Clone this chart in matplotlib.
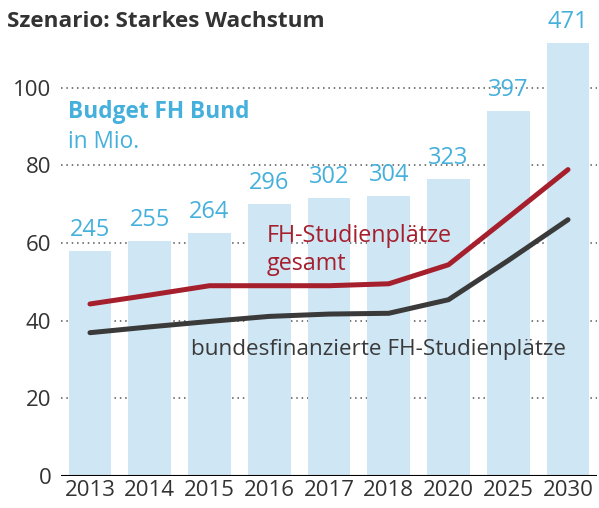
import matplotlib.pyplot as plt
import numpy as np

plt.rcParams['font.family'] = ['Open Sans', 'DejaVu Sans']

# --- data ---
years = ['2013', '2014', '2015', '2016', '2017', '2018', '2020', '2025', '2030']
budget = [245, 255, 264, 296, 302, 304, 323, 397, 471]        # Mio.
plaetze_gesamt = [44.3, 46.6, 49.0, 49.0, 49.0, 49.5, 54.4, 66.6, 78.9]
plaetze_bund = [36.9, 38.4, 39.8, 41.1, 41.7, 41.9, 45.4, 55.5, 66.0]
budget_scale = 4.22   # budget bars drawn on the same axis, Mio. per unit

BAR_C = '#cfe6f4'
BLUE = '#45b0dc'
RED = '#a51f2d'
DARK = '#3a3a3a'
TXT = '#333333'

fig = plt.figure(figsize=(5.99, 5.08), dpi=100)
ax = fig.add_axes([61 / 599, 32 / 508, 536 / 599, 466 / 508])

x = np.arange(len(years))
bar_h = np.array(budget) / budget_scale
ax.bar(x, bar_h, width=0.715, color=BAR_C, zorder=2)

for xi, h, v in zip(x, bar_h, budget):
    ax.annotate(str(v), (xi, h), xytext=(0, 6.5), textcoords='offset points',
                ha='center', va='bottom', fontsize=17, color=BLUE, zorder=5)

ax.plot(x, plaetze_gesamt, color=RED, lw=3.6, solid_capstyle='round',
        solid_joinstyle='round', zorder=4)
ax.plot(x, plaetze_bund, color=DARK, lw=3.6, solid_capstyle='round',
        solid_joinstyle='round', zorder=4)

# grid + axes
for g in [20, 40, 60, 80, 100]:
    ax.axhline(g, color='#555555', lw=1.1, ls=(0, (1, 2.5)), zorder=1)
ax.axhline(0, color='black', lw=1.5, zorder=3)

ax.set_xlim(-0.485, 8.485)
ax.set_ylim(0, 120)
ax.set_yticks([0, 20, 40, 60, 80, 100])
ax.set_xticks(x)
ax.set_xticklabels(years)
ax.tick_params(axis='both', length=0, labelsize=16, colors=TXT)
ax.tick_params(axis='y', pad=7)
ax.tick_params(axis='x', pad=3)
for s in ax.spines.values():
    s.set_visible(False)

# annotations
fig.text(68 / 599, 1 - 118 / 508, 'Budget FH Bund', fontsize=16.3,
         fontweight='bold', color=BLUE, va='baseline')
fig.text(68 / 599, 1 - 148 / 508, 'in Mio.', fontsize=16.3,
         color=BLUE, va='baseline')
fig.text(267 / 599, 1 - 242 / 508, 'FH-Studienplätze',
         fontsize=16.8, color=RED, va='baseline')
fig.text(267 / 599, 1 - 270 / 508, 'gesamt',
         fontsize=16.8, color=RED, va='baseline')
fig.text(191 / 599, 1 - 355 / 508, 'bundesfinanzierte FH-Studienplätze',
         fontsize=16.2, color=DARK, va='baseline')

fig.text(7 / 599, 1 - 27 / 508, 'Szenario: Starkes Wachstum', fontsize=16.2,
         fontweight='bold', color=TXT, va='baseline')

fig.savefig('out.png', dpi=100)
